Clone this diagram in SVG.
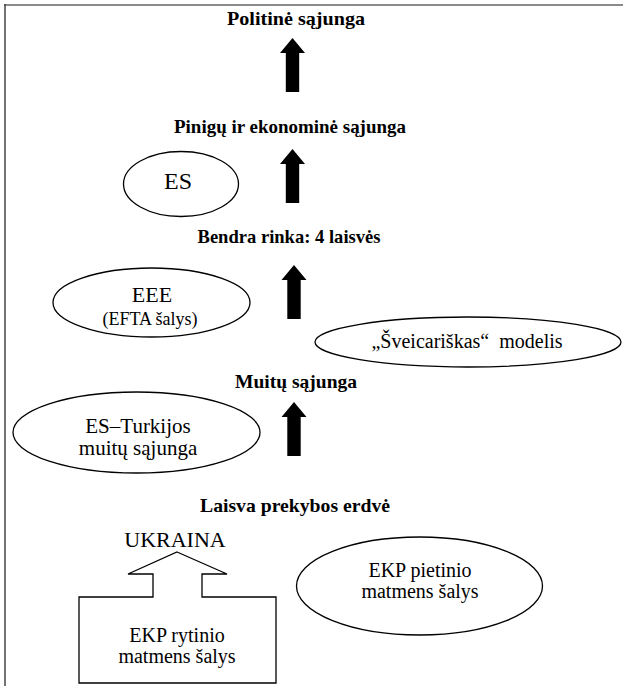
<svg xmlns="http://www.w3.org/2000/svg" xmlns:xlink="http://www.w3.org/1999/xlink" width="623" height="686" viewBox="0 0 623 686">
  <style>
    .hdr { font-family: "Liberation Serif", "Times New Roman", serif; font-weight: bold; font-size: 19px; fill: #000; text-anchor: middle; }
    .lbl { font-family: "Liberation Serif", "Times New Roman", serif; font-size: 20px; fill: #000; text-anchor: middle; }
    .shape { fill: #fff; stroke: #000; stroke-width: 1.3; }
    .arrow { fill: #000; stroke: none; }
  </style>
  <defs>
    <path id="up" class="arrow" d="M0,0 L12.5,15 L6.7,15 L6.7,54 L-6.7,54 L-6.7,15 L-12.5,15 Z"/>
  </defs>
  <rect x="0" y="0" width="623" height="686" fill="#fff"/>
  <g id="frame">
    <line x1="4" y1="5" x2="623" y2="5" stroke="#8a8a8a" stroke-width="2"/>
    <line x1="5" y1="4" x2="5" y2="686" stroke="#444" stroke-width="1.5"/>
  </g>

  <g id="connectors">
    <use xlink:href="#up" href="#up" x="292.5" y="38"/>
    <use xlink:href="#up" href="#up" x="292.5" y="149"/>
    <use xlink:href="#up" href="#up" x="294" y="265"/>
    <use xlink:href="#up" href="#up" x="294" y="402"/>
  </g>

  <g id="politine">
    <text class="hdr" x="296" y="25" textLength="138" lengthAdjust="spacingAndGlyphs">Politinė sąjunga</text>
  </g>
  <g id="pinigu">
    <text class="hdr" x="290" y="133" textLength="232" lengthAdjust="spacingAndGlyphs">Pinigų ir ekonominė sąjunga</text>
  </g>
  <g id="bendra">
    <text class="hdr" x="289" y="243" textLength="183" lengthAdjust="spacingAndGlyphs">Bendra rinka: 4 laisvės</text>
  </g>
  <g id="muitu">
    <text class="hdr" x="296" y="388" textLength="122" lengthAdjust="spacingAndGlyphs">Muitų sąjunga</text>
  </g>
  <g id="laisva">
    <text class="hdr" x="295" y="512" textLength="190" lengthAdjust="spacingAndGlyphs">Laisva prekybos erdvė</text>
  </g>

  <g id="es">
    <ellipse class="shape" cx="181" cy="184" rx="57.5" ry="32.5"/>
    <text class="lbl" x="178" y="189" style="font-size:24px">ES</text>
  </g>
  <g id="eee">
    <ellipse class="shape" cx="151.5" cy="302.5" rx="98.5" ry="34.5"/>
    <text class="lbl" x="152" y="302" style="font-size:22px">EEE</text>
    <text class="lbl" x="150" y="325" style="font-size:18px">(EFTA šalys)</text>
  </g>
  <g id="sveicariskas">
    <ellipse class="shape" cx="468" cy="342" rx="153" ry="25"/>
    <text class="lbl" x="467" y="348" xml:space="preserve">„Šveicariškas“  modelis</text>
  </g>
  <g id="turkija">
    <ellipse class="shape" cx="136.5" cy="432.5" rx="123.5" ry="40.5"/>
    <text class="lbl" x="138" y="433" style="font-size:21px">ES–Turkijos</text>
    <text class="lbl" x="138" y="455" style="font-size:21px">muitų sąjunga</text>
  </g>
  <g id="ukraina">
    <path class="shape" d="M177,552 L227,574 L202,574 L202,597 L276,597 L276,683 L79,683 L79,597 L153,597 L153,574 L128,574 Z"/>
    <text class="lbl" x="175" y="547" style="font-size:22px">UKRAINA</text>
    <text class="lbl" x="177" y="642">EKP rytinio</text>
    <text class="lbl" x="177" y="663">matmens šalys</text>
  </g>
  <g id="pietinio">
    <ellipse class="shape" cx="419.5" cy="586" rx="123" ry="49"/>
    <text class="lbl" x="420" y="577">EKP pietinio</text>
    <text class="lbl" x="420" y="598">matmens šalys</text>
  </g>
</svg>
